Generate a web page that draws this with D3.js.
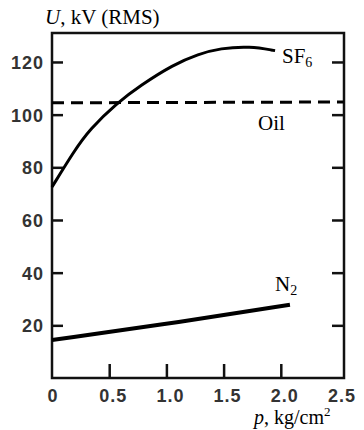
<!DOCTYPE html>
<html>
<head>
<meta charset="utf-8">
<script src="https://cdn.jsdelivr.net/npm/d3@7"></script>
<style>
  body { margin: 0; background: #fff; }
  .tick-label { font-family: "Liberation Sans", Arial, sans-serif; font-weight: bold; font-size: 18px; fill: #333; letter-spacing: 1px; }
  .serif { font-family: "Liberation Serif", "Times New Roman", serif; fill: #000; }
</style>
</head>
<body>
<div id="chart"></div>
<script>
// data
var sf6P = [0, 0.19, 0.33, 0.57, 0.77, 1.06, 1.28, 1.47, 1.73, 1.95]
var sf6U = [72.5, 86, 94.5, 104.5, 111, 119, 123, 125.2, 126, 124.3]
var oilP = [0, 2.55]
var oilU = [104.5, 104.8]
var n2P = [0, 1.14, 2.08]
var n2U = [14.4, 21.4, 27.8]
var xTicks = [0, 0.5, 1.0, 1.5, 2.0, 2.5]
var yTicks = [20, 40, 60, 80, 100, 120]

var width = 364, height = 430
var m = {left: 52, right: 344, top: 33, bottom: 378}

var svg = d3.select("#chart").append("svg")
    .attr("width", width)
    .attr("height", height)

// scales
var x = d3.scaleLinear().domain([0, 2.5]).range([m.left, 338])
var y = d3.scaleLinear().domain([0, 131]).range([m.bottom, m.top])

// frame
svg.append("rect")
  .attr("x", m.left).attr("y", m.top)
  .attr("width", m.right - m.left).attr("height", m.bottom - m.top)
  .attr("fill", "none").attr("stroke", "#111").attr("stroke-width", 2.5)

// axes with inward ticks
var yLeft = d3.axisRight(y).tickValues(yTicks).tickSize(11).tickFormat("")
svg.append("g").attr("transform", "translate(" + m.left + ",0)").call(yLeft)
var yRight = d3.axisLeft(y).tickValues(yTicks).tickSize(12).tickFormat("")
svg.append("g").attr("transform", "translate(" + m.right + ",0)").call(yRight)
var xAx = d3.axisTop(x).tickValues(xTicks.slice(1, 5)).tickSize(14).tickFormat("")
svg.append("g").attr("transform", "translate(0," + m.bottom + ")").call(xAx)
svg.selectAll(".domain").remove()
svg.selectAll(".tick line").attr("stroke", "#111").attr("stroke-width", 2.5)

// tick labels
svg.selectAll(".ylab").data(yTicks).enter().append("text")
  .attr("class", "tick-label")
  .attr("x", 44)
  .attr("y", function(d) { return y(d) + 7 })
  .attr("text-anchor", "end")
  .text(function(d) { return d })

svg.selectAll(".xlab").data(xTicks).enter().append("text")
  .attr("class", "tick-label")
  .attr("x", function(d, i) { return x(d) + (i == 0 ? 1 : 4) })
  .attr("y", 402)
  .attr("text-anchor", "middle")
  .text(function(d) { return d == 0 ? "0" : d.toFixed(1) })

// curves
var line = d3.line()
    .x(function(d) { return x(d[0]) })
    .y(function(d) { return y(d[1]) })
    .curve(d3.curveBasis)

svg.append("path")
  .datum(d3.zip(sf6P, sf6U))
  .attr("d", line)
  .attr("fill", "none").attr("stroke", "#000").attr("stroke-width", 3)

svg.append("path")
  .datum(d3.zip(oilP, oilU))
  .attr("d", line)
  .attr("fill", "none").attr("stroke", "#000").attr("stroke-width", 3)
  .attr("stroke-dasharray", "12,7")

svg.append("path")
  .datum(d3.zip(n2P, n2U))
  .attr("d", line)
  .attr("fill", "none").attr("stroke", "#000").attr("stroke-width", 4)

// labels
var t = svg.append("text").attr("class", "serif").attr("x", 45).attr("y", 24).style("font-size", "21px")
t.append("tspan").style("font-style", "italic").text("U")
t.append("tspan").text(", kV (RMS)")

var sf = svg.append("text").attr("class", "serif").attr("x", 282).attr("y", 63).style("font-size", "21px")
sf.append("tspan").text("SF")
sf.append("tspan").attr("dy", 4).style("font-size", "14px").text("6")

svg.append("text").attr("class", "serif").attr("x", 258).attr("y", 130).style("font-size", "21px").text("Oil")

var n2 = svg.append("text").attr("class", "serif").attr("x", 275).attr("y", 291).style("font-size", "21px")
n2.append("tspan").text("N")
n2.append("tspan").attr("dy", 4).style("font-size", "14px").text("2")

var px = svg.append("text").attr("class", "serif").attr("x", 254).attr("y", 424).style("font-size", "20px")
px.append("tspan").style("font-style", "italic").text("p")
px.append("tspan").text(", kg/cm")
px.append("tspan").attr("dy", -8).style("font-size", "13px").text("2")
</script>
</body>
</html>
